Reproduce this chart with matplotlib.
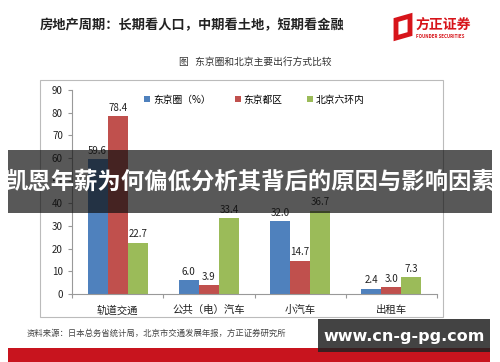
import numpy as np
import matplotlib
matplotlib.use("Agg")
import matplotlib.pyplot as plt
from matplotlib.patches import Rectangle, Polygon

plt.rcParams['font.family'] = ['Noto Sans CJK SC', 'DejaVu Sans']

# data
categories = ['轨道交通', '公共（电）汽车', '小汽车', '出租车']
series_names = ['东京圈（%）', '东京都区', '北京六环内']
tokyo_area = [59.6, 6.0, 32.0, 2.4]
tokyo_wards = [78.4, 3.9, 14.7, 3.0]
beijing_6ring = [22.7, 33.4, 36.7, 7.3]
yticks = [0, 10, 20, 30, 40, 50, 60, 70, 80, 90]

colors = ['#4F81BD', '#C0504D', '#9BBB59']
W, H = 500, 362

fig = plt.figure(figsize=(5, 3.62), dpi=100)
fig.patch.set_facecolor('white')


def fx(px):
    return px / W


def fy(py):
    return 1 - py / H


# header
fig.text(fx(40), fy(25), '房地产周期：长期看人口，中期看土地，短期看金融',
         fontsize=9.5, fontweight='bold', color='#222222', va='center', ha='left')
# logo
fig.patches.append(Polygon([[fx(396), fy(20)], [fx(410), fy(16)], [fx(410), fy(34)],
                            [fx(396), fy(38)]], closed=True, transform=fig.transFigure,
                           facecolor='white', edgecolor='#D7141A', linewidth=3.5))
fig.text(fx(415), fy(25), '方正证券', fontsize=10, fontweight='bold', color='#D7141A',
         va='center', ha='left')
fig.text(fx(416), fy(37), 'FOUNDER SECURITIES', fontsize=3.2, color='#D7141A',
         va='center', ha='left', fontweight='bold')

# chart subtitle
fig.text(fx(255), fy(62), '图   东京圈和北京主要出行方式比较', fontsize=7, color='#333333',
         va='center', ha='center')

# chart frame
fig.patches.append(Rectangle((fx(40), fy(317)), fx(403), (317 - 80) / H,
                             transform=fig.transFigure, facecolor='none',
                             edgecolor='#BBBBBB', linewidth=0.8))

ax = fig.add_axes([fx(72), fy(294), fx(365), (294 - 90) / H])
x = np.arange(len(categories))
bw = 0.22
for i, (vals, c) in enumerate(zip([tokyo_area, tokyo_wards, beijing_6ring], colors)):
    bars = ax.bar(x + (i - 1) * bw, vals, bw, color=c, label=series_names[i])
    for b, v in zip(bars, vals):
        ax.text(b.get_x() + b.get_width() / 2, v + 1.5, f'{v:.1f}', ha='center',
                va='bottom', fontsize=7, color='#222222')

ax.set_xlim(-0.5, 3.5)
ax.set_ylim(0, 90)
ax.set_yticks(yticks)
ax.tick_params(axis='y', labelsize=7, length=3, color='#999999', labelcolor='#222222')
ax.set_xticks(np.arange(-0.5, 4, 1))
ax.set_xticklabels([])
ax.tick_params(axis='x', length=3, color='#999999')
ax.set_xticks(x, minor=True)
ax.set_xticklabels(categories, minor=True, fontsize=7.5, color='#222222')
ax.tick_params(axis='x', which='minor', length=0, pad=8)
for s in ['top', 'right']:
    ax.spines[s].set_visible(False)
for s in ['left', 'bottom']:
    ax.spines[s].set_color('#999999')
    ax.spines[s].set_linewidth(0.8)
ax.legend(loc='upper center', bbox_to_anchor=(0.5, 1.02), ncol=3, frameon=False,
          fontsize=7, handlelength=0.6, handleheight=0.6, columnspacing=2.5,
          handletextpad=0.3)

# source
fig.text(fx(27), fy(333), '资料来源：日本总务省统计局，北京市交通发展年报，方正证券研究所',
         fontsize=6, color='#444444', va='center', ha='left')

# bottom red band
fig.patches.append(Rectangle((fx(8), 0), fx(482), 14 / H, transform=fig.transFigure,
                             facecolor='#C8141E', edgecolor='none'))

# dark overlay banner
fig.patches.append(Rectangle((fx(8), fy(213)), fx(484), 63 / H, transform=fig.transFigure,
                             facecolor='#111111', alpha=0.7, edgecolor='none', zorder=10))
fig.text(fx(250), fy(182), '凯恩年薪为何偏低分析其背后的原因与影响因素', fontsize=16.8,
         fontweight='bold', color='white', va='center', ha='center', zorder=11)

# watermark box
fig.patches.append(Rectangle((fx(318), fy(352)), fx(172), 33 / H, transform=fig.transFigure,
                             facecolor='#222222', alpha=0.85, edgecolor='none', zorder=10))
fig.text(fx(404), fy(336), 'www.cn-g-pg.com', fontsize=11.5, fontweight='bold',
         color='white', va='center', ha='center', zorder=11, family='DejaVu Sans')

fig.savefig('out.png', dpi=100)
